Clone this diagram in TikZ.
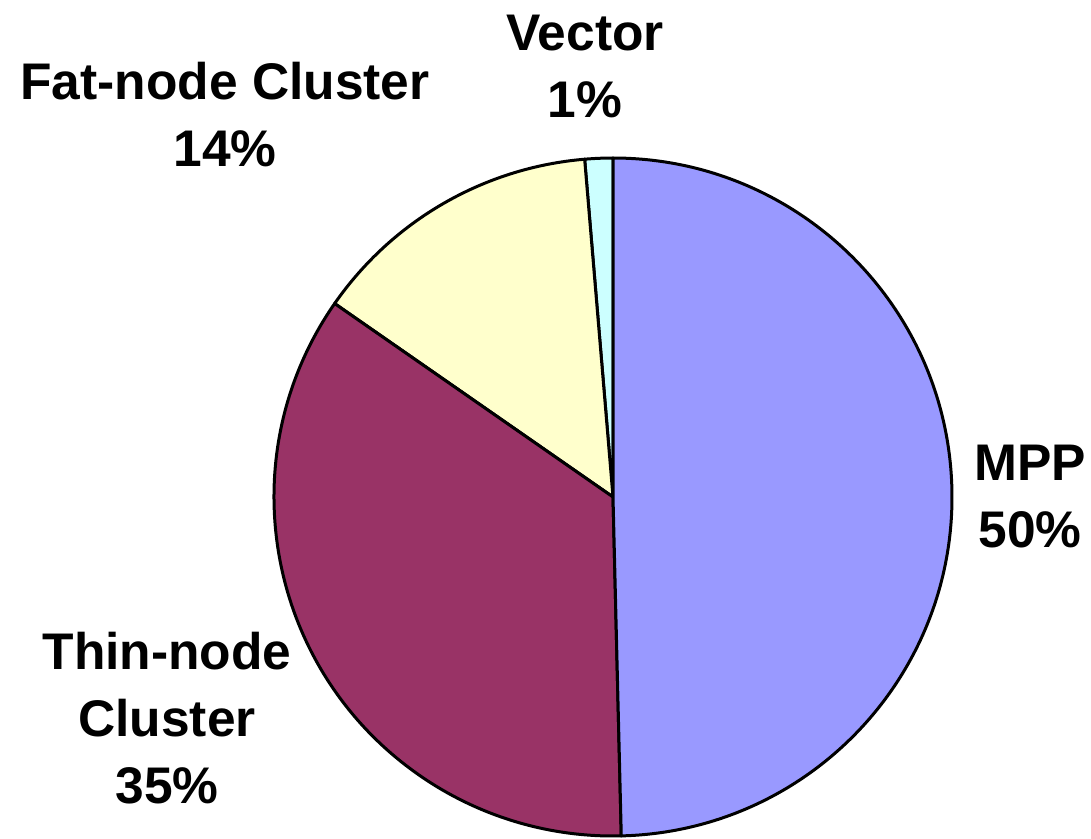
\documentclass[tikz,border=0pt]{standalone}
\usepackage{fontspec}
\setmainfont{Liberation Sans}
\definecolor{mppcol}{HTML}{9999FF}
\definecolor{thincol}{HTML}{993366}
\definecolor{fatcol}{HTML}{FFFFCC}
\definecolor{veccol}{HTML}{CCFFFF}
\begin{document}
\begin{tikzpicture}[x=1pt,y=1pt,
  slice/.style={draw=black,line width=3pt,line join=round},
  lbl/.style={font=\fontsize{51.5}{67}\bfseries\selectfont,align=center,inner sep=0pt,anchor=north}]
\useasboundingbox (0,0) rectangle (1091,-838);
\coordinate (c) at (613,-497);
\def\R{339}
% slices, counter-clockwise from the top
\filldraw[slice,fill=veccol] (c) -- ++(90:\R) arc[start angle=90,end angle=94.8,radius=\R] -- cycle;
\filldraw[slice,fill=fatcol] (c) -- ++(94.8:\R) arc[start angle=94.8,end angle=145.2,radius=\R] -- cycle;
\filldraw[slice,fill=thincol] (c) -- ++(145.2:\R) arc[start angle=145.2,end angle=271.4,radius=\R] -- cycle;
\filldraw[slice,fill=mppcol] (c) -- ++(271.4:\R) arc[start angle=271.4,end angle=450,radius=\R] -- cycle;
% labels
\node[lbl] (fatlbl) at (225,-62) {Fat-node Cluster\\14\%};
\node[lbl] (veclbl) at (585,-15) {Vector\\1\%};
\node[lbl] (mpplbl) at (1030,-445) {MPP\\50\%};
\node[lbl] (thinlbl) at (167,-632) {Thin-node\\Cluster\\35\%};
\end{tikzpicture}
\end{document}
